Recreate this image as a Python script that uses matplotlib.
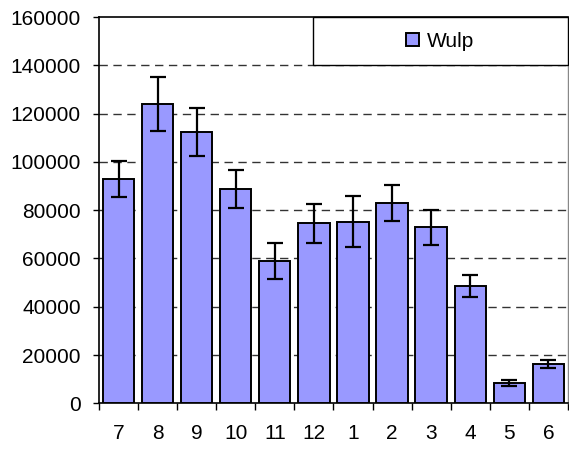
import matplotlib
matplotlib.use("Agg")
import matplotlib.pyplot as plt
from matplotlib.patches import Rectangle
import numpy as np

months = ["7", "8", "9", "10", "11", "12", "1", "2", "3", "4", "5", "6"]
values = [92800, 124000, 112500, 88700, 58800, 74600, 75300, 83000, 72900, 48700, 8300, 16400]
errors = [7500, 11000, 10000, 7900, 7500, 8000, 10500, 7500, 7200, 4600, 1300, 1700]
yticks = [0, 20000, 40000, 60000, 80000, 100000, 120000, 140000, 160000]

plt.rcParams['font.family'] = ['Liberation Sans', 'DejaVu Sans']
FS = 15

fig = plt.figure(figsize=(5.69, 4.49), dpi=100)
ax = fig.add_axes([0.174, 0.1018, 0.824, 0.8602])

x = np.arange(len(months))
ax.bar(x, values, width=0.8, color="#9999FF", edgecolor="black", linewidth=1.4,
       zorder=3, label="Wulp")
ax.errorbar(x, values, yerr=errors, fmt="none", ecolor="black", elinewidth=1.6,
            capsize=5.5, capthick=1.6, zorder=4)

ax.set_xlim(-0.5, len(months) - 0.5)
ax.set_ylim(0, 160000)
ax.set_yticks(yticks)
ax.set_yticklabels([str(t) for t in yticks], fontsize=FS)
ax.set_xticks(x)
ax.set_xticklabels(months, fontsize=FS)
ax.tick_params(axis='x', which='major', length=0, pad=15)
ax.set_xticks(np.arange(-0.5, len(months) + 0.5, 1), minor=True)
ax.tick_params(axis='x', which='minor', length=5, width=1, direction='out')
ax.tick_params(axis='y', length=4, width=1, direction='out', pad=9)

for t in yticks[1:-1]:
    ax.axhline(t, color="#333333", linewidth=1.0, linestyle=(0, (6, 4)), zorder=1)

for s in ['left', 'bottom', 'top']:
    ax.spines[s].set_color('black')
    ax.spines[s].set_linewidth(1.2)
ax.spines['right'].set_color('#888888')
ax.spines['right'].set_linewidth(1.0)

# legend box
lx0, ly0, lw, lh = 0.456, 0.875, 0.544, 0.125
ax.add_patch(Rectangle((lx0, ly0), lw, lh, transform=ax.transAxes, facecolor='white',
                       edgecolor='black', linewidth=1.0, zorder=5, clip_on=False))
leg = ax.legend(loc='center', bbox_to_anchor=(lx0 + lw / 2, ly0 + lh / 2),
                frameon=False, fontsize=FS, handlelength=0.6, handleheight=0.6,
                handletextpad=0.4)
leg.set_zorder(6)

fig.savefig("out.png", dpi=100)
